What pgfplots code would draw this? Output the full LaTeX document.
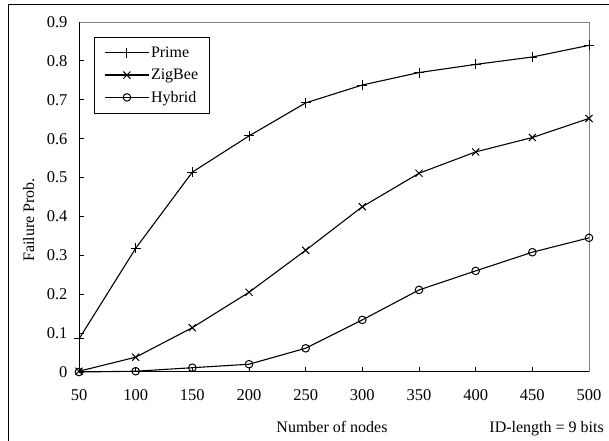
\documentclass[border=0pt]{standalone}
\usepackage{fontspec}
\setmainfont{Liberation Serif}
\usepackage{pgfplots}
\pgfplotsset{compat=1.18}
\begin{document}
\begin{tikzpicture}[font=\fontsize{16bp}{19bp}\selectfont]
\useasboundingbox (0,0) rectangle (609bp,441bp);
\fill[white] (0,0) rectangle (609bp,441bp);
\draw[black, line width=0.9bp] (8bp,0) -- (8bp,437bp) -- (609bp,437bp);
\begin{axis}[
  at={(79bp,69bp)}, anchor=south west,
  scale only axis, width=510bp, height=350bp,
  xmin=50, xmax=500, ymin=0, ymax=0.9,
  xtick={50,100,...,500}, ytick={0,0.1,...,0.9},
  yticklabels={0,0.1,0.2,0.3,0.4,0.5,0.6,0.7,0.8,0.9},
  /pgf/number format/assume math mode=true,
  axis line style={draw=none},
  tick align=inside, xtick pos=bottom, ytick pos=left,
  major tick length=5bp,
  tick style={black, line width=0.8bp},
  xticklabel style={yshift=-14bp, font=\fontsize{16.5bp}{19bp}\selectfont},
  yticklabel style={xshift=-8bp, font=\fontsize{16.5bp}{19bp}\selectfont},
  clip=false,
  legend style={at={(rel axis cs:0,1)}, xshift=15bp, yshift=-15bp, anchor=north west,
    draw=black, line width=0.8bp, inner xsep=10bp, inner ysep=8bp,
    row sep=7bp, nodes={inner sep=1.5bp}},
  legend cell align=left,
  legend image code/.code={\draw[#1, mark=none] (0bp,0bp) -- (44bp,0bp);
     \draw[#1, only marks] plot coordinates {(22bp,0bp)};},
  every axis plot/.append style={black, line width=1.1bp},
]
\draw[gray, line width=1bp] (rel axis cs:0,1) -- (rel axis cs:1,1) -- (rel axis cs:1,0);
\draw[black, line width=1bp] (rel axis cs:0,1) -- (rel axis cs:0,0) -- (rel axis cs:1,0);
\addplot[mark=+, mark size=5bp, mark options={line width=1bp}] coordinates {
(50,0.085) (100,0.318) (150,0.514) (200,0.607) (250,0.692) (300,0.738) (350,0.770) (400,0.791) (450,0.810) (500,0.840)};
\addlegendentry{Prime}
\addplot[mark=x, mark size=5bp, mark options={line width=1bp}] coordinates {
(50,0.002) (100,0.038) (150,0.114) (200,0.205) (250,0.313) (300,0.425) (350,0.511) (400,0.566) (450,0.603) (500,0.652)};
\addlegendentry{ZigBee}
\addplot[mark=o, mark size=3.8bp, mark options={line width=1bp}] coordinates {
(50,0.0) (100,0.002) (150,0.011) (200,0.020) (250,0.061) (300,0.134) (350,0.211) (400,0.260) (450,0.308) (500,0.345)};
\addlegendentry{Hybrid}
\end{axis}
\node[anchor=base, rotate=90] at (34bp,221bp) {Failure Prob.};
\node[anchor=base] at (332bp,9bp) {Number of nodes};
\node[anchor=base east, inner sep=0pt] at (604bp,9bp) {ID-length = 9 bits};
\end{tikzpicture}
\end{document}
